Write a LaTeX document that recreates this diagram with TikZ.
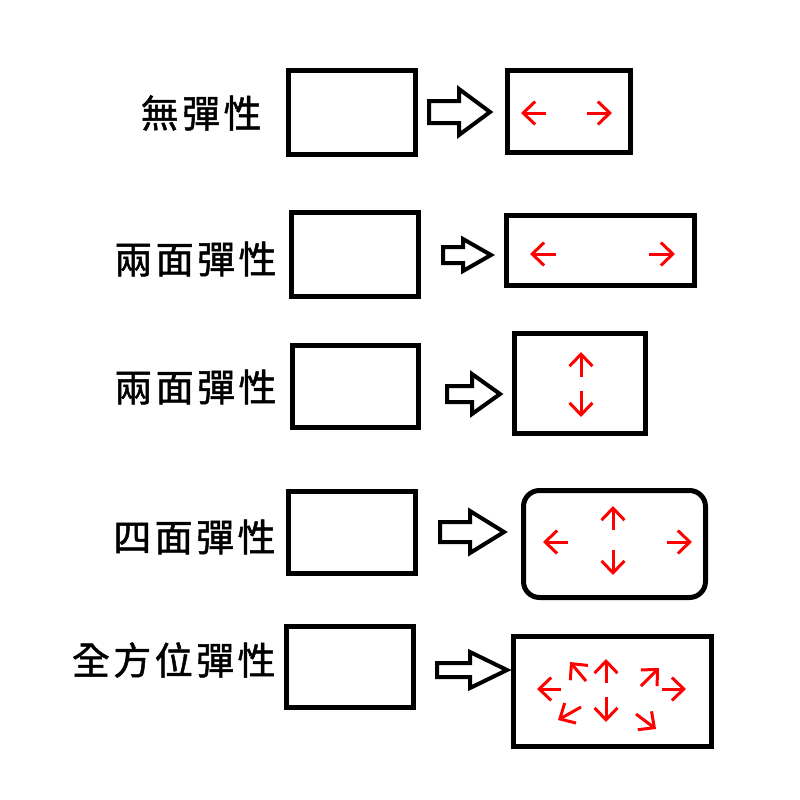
\documentclass[tikz,border=0pt]{standalone}
\usepackage{fontspec}
\newfontfamily\cjk{Noto Sans CJK TC}[LetterSpace=9,FakeBold=1.3]
\usetikzlibrary{arrows.meta}
\definecolor{rd}{RGB}{255,0,0}
\tikzset{
  bx/.style={draw=black, line width=2.5pt, inner sep=0pt, fill=white},
  lbl/.style={font=\cjk\fontsize{19pt}{22pt}\selectfont, anchor=east, inner sep=0pt},
  hol/.style={draw=black, line width=2pt, line join=miter, fill=white},
  ra/.style={draw=rd, line width=1.5pt, -{Straight Barb[length=6pt,width=11.5pt]}}
}
\newcommand{\boxat}[6][]{% name x1 y1 x2 y2
  \node[bx,#1, minimum width={(#5-#3-5)*0.5pt}, minimum height={(#6-#4-5)*0.5pt}] (#2) at ({(#3+#5)/2},{(#4+#6)/2}) {};}
\newcommand{\holarrow}[7]{% tail base tip yc h H
  \draw[hol] (#1,#4-#5) -- (#2,#4-#5) -- (#2,#4-#6) -- (#3,#4) -- (#2,#4+#6) -- (#2,#4+#5) -- (#1,#4+#5) -- cycle;}
\begin{document}
\begin{tikzpicture}[x=0.5pt,y=-0.5pt]
\path[use as bounding box, fill=white] (0,0) rectangle (800,800);
% row 1
\node[lbl] (l1) at (262,113) {無彈性};
\boxat{a1}{286}{68}{418}{157}
\holarrow{429}{459}{490}{112}{11}{23}{}
\boxat{b1}{505}{68}{633}{155}
\draw[ra] (546,113) -- (521,113);
\draw[ra] (587,113) -- (612,113);
% row 2
\node[lbl] (l2) at (277,259) {兩面彈性};
\boxat{a2}{289}{210}{421}{299}
\holarrow{443}{463}{491}{255}{8}{16}{}
\boxat{b2}{504}{213}{697}{288}
\draw[ra] (556,254) -- (530,254);
\draw[ra] (649,254) -- (675,254);
% row 3
\node[lbl] (l3) at (277,387) {兩面彈性};
\boxat{a3}{290}{343}{421}{430}
\holarrow{447}{472}{500}{394}{8}{20}{}
\boxat{b3}{512}{331}{648}{436}
\draw[ra] (581,377) -- (581,352);
\draw[ra] (581,391) -- (581,417);
% row 4
\node[lbl] (l4) at (276,537) {四面彈性};
\boxat{a4}{286}{489}{418}{576}
\holarrow{440}{470}{504}{532}{10}{21}{}
\boxat[rounded corners=8pt]{b4}{521}{488}{708}{600}
\draw[ra] (568,542) -- (543,542);
\draw[ra] (667,542) -- (692,542);
\draw[ra] (613,530) -- (613,506);
\draw[ra] (613,550) -- (613,575);
% row 5
\node[lbl] (l5) at (276,660) {全方位彈性};
\boxat{a5}{284}{624}{416}{710}
\holarrow{437}{470}{507}{670}{7}{18}{}
\boxat{b5}{511}{634}{714}{749}
\draw[ra] (561,689) -- (537,689);
\draw[ra] (662,689) -- (686,689);
\draw[ra] (606,683) -- (606,659);
\draw[ra] (606,697) -- (606,722);
\draw[ra] (586,681) -- (570,662);
\draw[ra] (641,686) -- (659,668);
\draw[ra] (581,707) -- (558,720);
\draw[ra] (636,714) -- (656,729);
\end{tikzpicture}
\end{document}
